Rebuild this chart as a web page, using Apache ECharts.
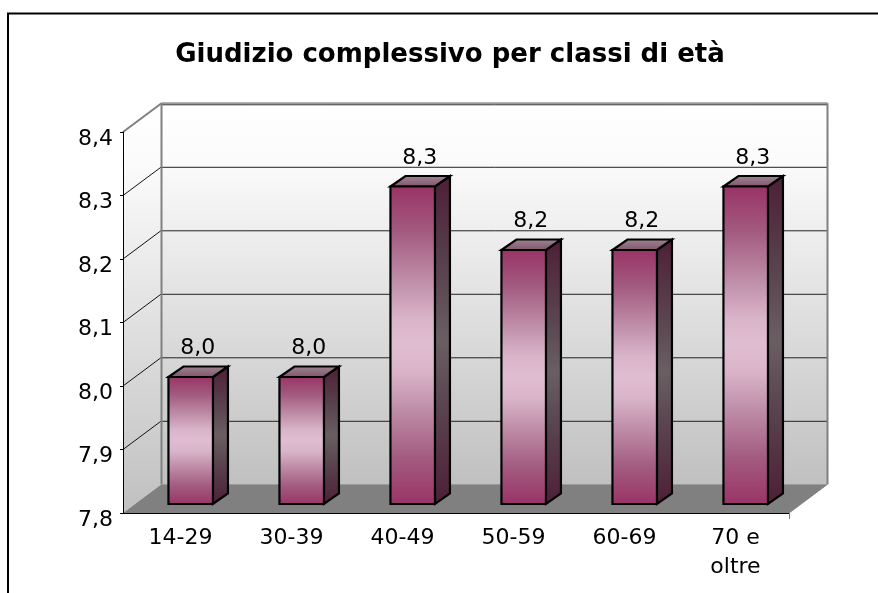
<!DOCTYPE html>
<html>
<head>
<meta charset="utf-8">
<style>
  html, body { margin: 0; padding: 0; background: #fff; }
  #chart { width: 878px; height: 593px; }
</style>
<script src="https://cdn.jsdelivr.net/npm/echarts@6/dist/echarts.min.js"></script>
</head>
<body>
<div id="chart"></div>
<script>
const categories = ['14-29', '30-39', '40-49', '50-59', '60-69', '70 e\noltre']
const values = [8.0, 8.0, 8.3, 8.2, 8.2, 8.3]
const yTicks = [7.8, 7.9, 8.0, 8.1, 8.2, 8.3, 8.4]
const Y_MIN = 7.8
const Y_MAX = 8.4

const FONT = '"DejaVu Sans", Verdana, sans-serif'
// fake 3d: how far the back wall and the bars sit behind the front plane
const WALL = { dx: 38.5, dy: -28.7 }
const BAR = { dx: 12.2, dy: -9, depthX: 15, depthY: -10.5, width: 44.5 }

function grad(stops) {
  return new echarts.graphic.LinearGradient(0, 0, 0, 1,
    stops.map(s => ({ offset: s[0], color: s[1] })))
}

const wallFill = grad([[0, '#ffffff'], [0.15, '#fbfbfb'], [1, '#c0c0c0']])
const frontFill = grad([[0, '#993366'], [0.15, '#a35c80'], [0.3, '#bf8ea9'], [0.42, '#dab5ca'], [0.5, '#e0bdd0'], [0.58, '#dab5ca'], [0.7, '#bf8ea9'], [0.85, '#a35c80'], [1, '#993366']])
const sideFill = grad([[0, '#4d1f36'], [0.3, '#5a444f'], [0.5, '#695f63'], [0.7, '#5a444f'], [1, '#4d1f36']])
const topFill = grad([[0, '#9c8a93'], [1, '#84506c']])

function poly(points, fill, stroke, lineWidth) {
  return {
    type: 'polygon',
    shape: { points },
    style: { fill, stroke: stroke || 'none', lineWidth: lineWidth || 0 }
  }
}

function line(x1, y1, x2, y2, stroke, lineWidth) {
  return {
    type: 'line',
    shape: { x1, y1, x2, y2 },
    style: { stroke, lineWidth: lineWidth || 1 }
  }
}

// walls and floor, one pass only
function renderWalls(params, api) {
  if (params.dataIndex !== 0) return
  const lb = api.coord([0, Y_MIN])
  const band = api.size([1, 0])[0]
  const left = lb[0] - band / 2
  const right = left + band * categories.length
  const bottom = lb[1]
  const top = api.coord([0, Y_MAX])[1]
  const { dx, dy } = WALL
  const children = [
    poly([[left, bottom], [left + dx, bottom + dy], [left + dx, top + dy], [left, top]], wallFill),
    poly([[left + dx, top + dy], [right + dx, top + dy], [right + dx, bottom + dy], [left + dx, bottom + dy]], wallFill),
    poly([[left, bottom], [right, bottom], [right + dx, bottom + dy], [left + dx, bottom + dy]], '#808080')
  ]
  yTicks.forEach(t => {
    const y = api.coord([0, t])[1]
    if (t === Y_MIN || t === Y_MAX) return
    children.push(line(left, y, left + dx, y + dy, '#111'))
    children.push(line(left + dx, y + dy + 0.5, right + dx, y + dy + 0.5, '#222'))
  })
  children.push(line(left, top, left + dx, top + dy, '#808080', 2))
  children.push(line(left + dx, top + dy, right + dx, top + dy, '#999', 2))
  children.push(line(left + dx, top + dy + 1.5, right + dx, top + dy + 1.5, '#333', 1))
  children.push(line(left + dx, top + dy, left + dx, bottom + dy, '#808080', 2))
  children.push(line(right + dx, top + dy, right + dx, bottom + dy, '#808080', 2))
  children.push(line(right, bottom, right + dx, bottom + dy, '#808080', 1))
  return { type: 'group', children }
}

function renderBar(params, api) {
  const i = api.value(0)
  const v = api.value(1)
  const base = api.coord([i, Y_MIN])
  const head = api.coord([i, v])
  const x0 = base[0] + BAR.dx - BAR.width / 2
  const x1 = x0 + BAR.width
  const yb = base[1] + BAR.dy
  const yt = head[1] + BAR.dy
  const ddx = BAR.depthX
  const ddy = BAR.depthY
  return {
    type: 'group',
    children: [
      poly([[x1, yt], [x1 + ddx, yt + ddy], [x1 + ddx, yb + ddy], [x1, yb]], sideFill, '#000', 2.2),
      poly([[x0, yt], [x0 + ddx, yt + ddy], [x1 + ddx, yt + ddy], [x1, yt]], topFill, '#000', 2.2),
      poly([[x0, yt], [x1, yt], [x1, yb], [x0, yb]], frontFill, '#000', 2.2),
      {
        type: 'text',
        style: {
          x: x0 + BAR.width / 2 + 7,
          y: yt + ddy - 7,
          text: v.toFixed(1).replace('.', ','),
          fill: '#000',
          font: '22px ' + FONT,
          align: 'center',
          verticalAlign: 'bottom'
        }
      }
    ]
  }
}

const chart = echarts.init(document.getElementById('chart'), null, { renderer: 'canvas' })

chart.setOption({
  animation: false,
  backgroundColor: '#fff',
  title: {
    text: 'Giudizio complessivo per classi di età',
    left: 445,
    top: 37,
    textAlign: 'center',
    textStyle: { fontFamily: FONT, fontWeight: 'bold', fontSize: 26, color: '#000' }
  },
  grid: { left: 123, right: 89, top: 132, bottom: 80, containLabel: false },
  xAxis: {
    type: 'category',
    data: categories,
    z: 5,
    axisLine: { lineStyle: { color: '#000', width: 1 } },
    axisTick: { alignWithLabel: false, length: 5, lineStyle: { color: '#000' } },
    axisLabel: { fontFamily: FONT, fontSize: 22, color: '#000', margin: 11, lineHeight: 29, interval: 0, padding: [0, 0, 0, 4] }
  },
  yAxis: {
    type: 'value',
    min: Y_MIN,
    max: Y_MAX,
    interval: 0.1,
    z: 5,
    splitLine: { show: false },
    axisLine: { show: true, lineStyle: { color: '#000', width: 1 } },
    axisTick: { show: true, length: 3, lineStyle: { color: '#000' } },
    axisLabel: {
      fontFamily: FONT, fontSize: 22, color: '#000', margin: 10,
      verticalAlign: 'top', lineHeight: 14,
      formatter: v => v.toFixed(1).replace('.', ',')
    }
  },
  series: [
    { type: 'custom', name: 'pareti', z: 1, silent: true, renderItem: renderWalls, data: yTicks.map(t => [0, t]), encode: { x: 0, y: 1 } },
    { type: 'custom', name: 'Giudizio', z: 3, renderItem: renderBar, data: values.map((v, i) => [i, v]), encode: { x: 0, y: 1 } }
  ],
  graphic: [
    // frame of the original picture, it runs off the crop at the bottom
    { type: 'polyline', z: 10, silent: true, shape: { points: [[8, 593], [8, 13.5], [878, 13.5]] }, style: { stroke: '#000', lineWidth: 2, fill: 'none' } },
    // last category tick is grey in the original
    { type: 'line', z: 10, silent: true, shape: { x1: 789.5, y1: 513, x2: 789.5, y2: 519 }, style: { stroke: '#808080', lineWidth: 1 } }
  ]
})
</script>
</body>
</html>
